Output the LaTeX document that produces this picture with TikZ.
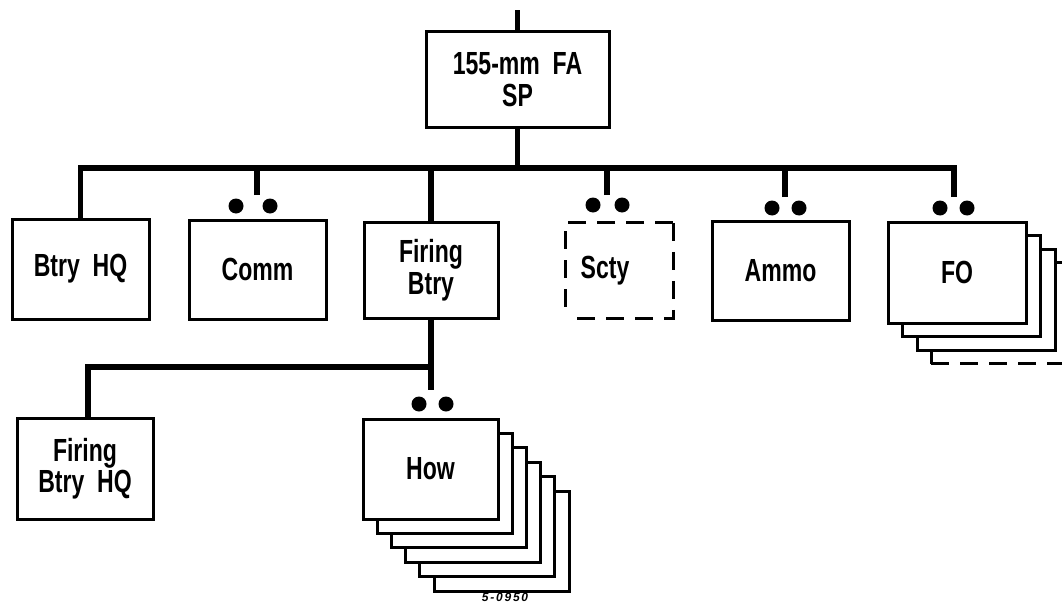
\documentclass[tikz,border=0pt]{standalone}
\usepackage{fontspec}
\setmainfont{Liberation Sans}[FakeStretch=0.72]
\newfontfamily\dwgfont{Liberation Sans}[LetterSpace=15]
\usetikzlibrary{calc}
\newcommand\orgboxfont{\fontsize{32}{31.5}\selectfont\bfseries}
\tikzset{
  orgbox/.style={draw, line width=3pt, rectangle, fill=white, inner sep=0pt,
    minimum width=137pt, minimum height=100pt, align=center, font=\orgboxfont},
  bar/.style={line width=5.5pt},
  pip/.style={circle, fill=black, draw=none, inner sep=0pt, minimum size=15pt},
  dashedge/.style={line width=3pt, dash pattern=on 18pt off 11pt},
}
\begin{document}
\begin{tikzpicture}[x=1pt,y=-1pt]
\clip (0,0) rectangle (1062,602);
\fill[white] (0,0) rectangle (1062,602);

% ---- top box
\node[orgbox, minimum width=183pt, minimum height=95pt] (top) at (517.5,79.5) {155-mm\ \ FA\\SP};
\coordinate (toptip) at (517.5,10);
\draw[line width=5pt] (top.north) -- (toptip);

% ---- second row
\node[orgbox] (bhq) at (80.5,269) {Btry\ \ HQ};
\node[orgbox, minimum height=99pt] (comm) at (257.5,269.5) {Comm};
\node[orgbox, minimum width=134pt, minimum height=96pt] (fb) at (431,270) {Firing\\Btry};
\node[rectangle, fill=white, inner sep=0pt, minimum width=107pt, minimum height=95pt] (scty) at (619.5,270.5) {};
\node[font=\orgboxfont, inner sep=0pt] (sctytext) at (605,270.5) {Scty};
\node[orgbox, minimum height=99pt] (ammo) at (780.5,270.5) {Ammo};

% FO stack (back to front)
\node[rectangle, fill=white, inner sep=0pt, minimum width=138pt, minimum height=101pt] (fo3) at ($(957,272.5)+(3*14.5,3*13.5)$) {};
\draw[line width=3pt] (fo3.south west) -- (fo3.north west) -- (fo3.north east);
\draw[dashedge] (fo3.south west) -- (fo3.south east);
\node[orgbox, minimum width=138pt, minimum height=101pt] (fo2) at ($(957,272.5)+(2*14.5,2*13.5)$) {};
\node[orgbox, minimum width=138pt, minimum height=101pt] (fo1) at ($(957,272.5)+(1*14.5,1*13.5)$) {};
\node[orgbox, minimum width=138pt, minimum height=101pt] (fo) at (957,272.5) {FO};

% Scty dashed outline
\draw[dashedge] (scty.north east) -- (scty.north west) -- (scty.south west);
\draw[dashedge] (scty.north east) -- (scty.south east) -- (scty.south west);

% ---- third row
\node[orgbox, minimum width=136pt, minimum height=101pt] (fbhq) at (85,468.5) {Firing\\Btry\ \ HQ};
\foreach \k in {5,4,3,2,1}{
  \node[orgbox, minimum width=135pt] (how\k) at ($(430.5,469)+(\k*14.2,\k*14.4)$) {};
}
\node[orgbox, minimum width=135pt] (how) at (430.5,469) {How};

% ---- main bus
\coordinate (busL) at (80.5,168);
\coordinate (busR) at (954,168);
\coordinate (fotip) at (954,197);
\draw[bar] (bhq.north) -- (busL) -- (busR) -- (fotip);
\draw[bar] (top.south) -- (top.south |- busL);
\draw[bar] (fb.north) -- (fb.north |- busL);
\coordinate (commtip) at (257,195);
\coordinate (sctytip) at (607,195);
\coordinate (ammotip) at (785,197);
\draw[bar] (commtip) -- (commtip |- busL);
\draw[bar] (sctytip) -- (sctytip |- busL);
\draw[bar] (ammotip) -- (ammotip |- busL);

% ---- lower bus
\coordinate (bus2L) at (88,367);
\coordinate (bus2R) at (431,367);
\coordinate (howtip) at (431,390);
\draw[bar] (fb.south) -- (howtip);
\draw[bar] (bus2R) -- (bus2L) -- (fbhq.north -| bus2L);

% ---- dots
\node[pip] (commd1) at (236,206) {};
\node[pip] (commd2) at (270,206) {};
\node[pip] (sctyd1) at (593,205) {};
\node[pip] (sctyd2) at (622,205) {};
\node[pip] (ammod1) at (772,208) {};
\node[pip] (ammod2) at (799,208) {};
\node[pip] (fod1) at (940,208) {};
\node[pip] (fod2) at (967,208) {};
\node[pip] (howd1) at (419,404) {};
\node[pip] (howd2) at (446,404) {};

% ---- drawing number
\node[font=\dwgfont\fontsize{12}{12}\selectfont\bfseries\itshape, inner sep=0pt] (dwgno) at (505,597) {5-0950};
\end{tikzpicture}
\end{document}
